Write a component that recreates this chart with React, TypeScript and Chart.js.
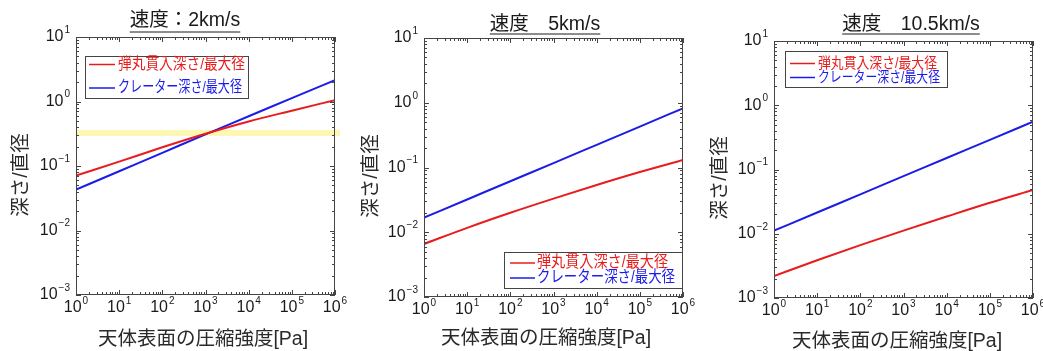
import React, { useEffect, useRef } from 'react';
import { Chart, registerables } from 'chart.js';

Chart.register(...registerables);

// ---------------- data ----------------
const pressure = [1, 10, 100, 1000, 10000, 100000, 1000000];
const penetration2 = [0.071, 0.117, 0.195, 0.316, 0.49, 0.72, 1.05];
const crater2 = [0.043, 0.083, 0.16, 0.31, 0.59, 1.13, 2.14];
const penetration5 = [0.00659, 0.0117, 0.02, 0.0331, 0.0537, 0.0851, 0.1306];
const crater5 = [0.0168, 0.0321, 0.0614, 0.117, 0.224, 0.429, 0.82];
const penetration105 = [0.0022, 0.00387, 0.00665, 0.01117, 0.01854, 0.0304, 0.048];
const crater105 = [0.01117, 0.0214, 0.0411, 0.0787, 0.151, 0.289, 0.555];
const highlightLevel = [0.326];

const xExponents = [0, 1, 2, 3, 4, 5, 6];
const yExponents = [-3, -2, -1, 0, 1];
const seriesNames = ['弾丸貫入深さ/最大径', 'クレーター深さ/最大径'];
const panelTitles = ['速度：2km/s', '速度　5km/s', '速度　10.5km/s'];
const xAxisTitle = '天体表面の圧縮強度[Pa]';
const yAxisTitle = '深さ/直径';

const panelSeries = [
  [penetration2, crater2],
  [penetration5, crater5],
  [penetration105, crater105],
];

// ---------------- layout / style ----------------
const W = 1043;
const H = 351;
const RED = '#e81c1c';
const BLUE = '#1c1ce8';
const FONT = "'Liberation Sans', 'Noto Sans CJK JP', sans-serif";

const layouts = [
  {
    area: { l: 76, r: 335, t: 37, b: 295 },
    title: { x: 185, y: 21, ul: 31.5 },
    yTitle: { x: 22, y: 175 },
    xTitle: { x: 203, y: 340 },
    legend: { l: 85, t: 56, r: 248, b: 98, rows: [64.5, 88], line: [89, 115], text: 118, size: 15.5, widths: [127, 124] },
    highlight: true,
  },
  {
    area: { l: 424, r: 683, t: 38, b: 297 },
    title: { x: 545, y: 25, ul: 33.5 },
    yTitle: { x: 372, y: 176 },
    xTitle: { x: 546, y: 339 },
    legend: { l: 504, t: 252, r: 682, b: 288, rows: [263, 278], line: [510, 535], text: 537, size: 16, widths: [131, 138] },
    highlight: false,
  },
  {
    area: { l: 774, r: 1033, t: 41, b: 298 },
    title: { x: 911, y: 25, ul: 33.5 },
    yTitle: { x: 721, y: 178 },
    xTitle: { x: 897, y: 342 },
    legend: { l: 785, t: 51, r: 947, b: 87, rows: [63.5, 77.5], line: [790, 815], text: 818, size: 14.5, widths: [119, 122] },
    highlight: false,
  },
];

const supDigits = (n: number) => (n < 0 ? '\u2212' + Math.abs(n) : String(n));

function drawPow(ctx: CanvasRenderingContext2D, e: number, x: number, y: number, align: 'center' | 'right') {
  ctx.save();
  ctx.fillStyle = '#1a1a1a';
  ctx.textBaseline = 'middle';
  ctx.textAlign = 'left';
  ctx.font = `16px ${FONT}`;
  const w10 = ctx.measureText('10').width;
  ctx.font = `10px ${FONT}`;
  const es = supDigits(e);
  const we = ctx.measureText(es).width;
  const x0 = align === 'center' ? x - (w10 + we + 1) / 2 : x - (w10 + we + 1);
  ctx.font = `16px ${FONT}`;
  ctx.fillText('10', x0, y);
  ctx.font = `10px ${FONT}`;
  ctx.fillText(es, x0 + w10 + 1, y - 7);
  ctx.restore();
}

function makeDecorPlugin(idx: number) {
  const L = layouts[idx];
  return {
    id: 'decor' + idx,
    beforeDatasetsDraw(chart: any) {
      const { ctx, chartArea, scales } = chart;
      if (L.highlight) {
        const yy = scales.y.getPixelForValue(highlightLevel[0]);
        ctx.save();
        ctx.fillStyle = 'rgba(252, 245, 160, 0.8)';
        ctx.fillRect(chartArea.left, yy - 3, chartArea.right - chartArea.left + 5, 6);
        ctx.restore();
      }
    },
    afterDraw(chart: any) {
      const { ctx, chartArea, scales } = chart;
      const { left, right, top, bottom } = chartArea;
      ctx.save();
      // frame
      ctx.strokeStyle = '#444';
      ctx.lineWidth = 1;
      ctx.strokeRect(left + 0.5, top + 0.5, right - left - 1, bottom - top - 1);
      // ticks
      ctx.beginPath();
      xExponents.forEach((e) => {
        for (let k = 1; k <= 9; k++) {
          const v = k * Math.pow(10, e);
          if (v > 1e6 + 1) break;
          const px = Math.round(scales.x.getPixelForValue(v)) + 0.5;
          const len = k === 1 ? 5 : 3;
          ctx.moveTo(px, bottom);
          ctx.lineTo(px, bottom - len);
          ctx.moveTo(px, top);
          ctx.lineTo(px, top + len);
        }
      });
      yExponents.forEach((e) => {
        for (let k = 1; k <= 9; k++) {
          const v = k * Math.pow(10, e);
          if (v > 10.0001) break;
          const py = Math.round(scales.y.getPixelForValue(v)) + 0.5;
          const len = k === 1 ? 5 : 3;
          ctx.moveTo(left, py);
          ctx.lineTo(left + len, py);
          ctx.moveTo(right, py);
          ctx.lineTo(right - len, py);
        }
      });
      ctx.stroke();
      ctx.restore();

      // tick labels
      xExponents.forEach((e) => {
        drawPow(ctx, e, scales.x.getPixelForValue(Math.pow(10, e)), bottom + 13, 'center');
      });
      yExponents.forEach((e) => {
        drawPow(ctx, e, left - 6, scales.y.getPixelForValue(Math.pow(10, e)), 'right');
      });

      // title with underline
      ctx.save();
      ctx.fillStyle = '#1a1a1a';
      ctx.font = `19.5px ${FONT}`;
      ctx.textAlign = 'center';
      ctx.textBaseline = 'middle';
      const t = panelTitles[idx];
      ctx.fillText(t, L.title.x, L.title.y);
      const tw = ctx.measureText(t).width;
      ctx.strokeStyle = '#1a1a1a';
      ctx.lineWidth = 1;
      ctx.beginPath();
      ctx.moveTo(L.title.x - tw / 2, L.title.ul + 0.5);
      ctx.lineTo(L.title.x + tw / 2, L.title.ul + 0.5);
      ctx.stroke();

      // axis titles
      ctx.fillStyle = '#2a2a2a';
      ctx.font = `19.5px ${FONT}`;
      ctx.fillText(xAxisTitle, L.xTitle.x, L.xTitle.y);
      ctx.translate(L.yTitle.x, L.yTitle.y);
      ctx.rotate(-Math.PI / 2);
      ctx.fillText(yAxisTitle, 0, 0);
      ctx.restore();

      // legend
      const lg = L.legend;
      ctx.save();
      ctx.fillStyle = '#ffffff';
      ctx.fillRect(lg.l, lg.t, lg.r - lg.l, lg.b - lg.t);
      ctx.strokeStyle = '#444';
      ctx.lineWidth = 1;
      ctx.strokeRect(lg.l + 0.5, lg.t + 0.5, lg.r - lg.l, lg.b - lg.t);
      chart.data.datasets.forEach((ds: any, i: number) => {
        const y = lg.rows[i];
        ctx.strokeStyle = ds.borderColor;
        ctx.lineWidth = 1.5;
        ctx.beginPath();
        ctx.moveTo(lg.line[0], y);
        ctx.lineTo(lg.line[1], y);
        ctx.stroke();
        ctx.fillStyle = ds.borderColor;
        ctx.font = `${lg.size}px ${FONT}`;
        ctx.textAlign = 'left';
        ctx.textBaseline = 'middle';
        ctx.fillText(ds.label, lg.text, y, lg.widths[i]);
      });
      ctx.restore();
    },
  };
}

function Panel({ idx }: { idx: number }) {
  const ref = useRef<HTMLCanvasElement | null>(null);
  useEffect(() => {
    const L = layouts[idx];
    const [pen, cra] = panelSeries[idx];
    const chart = new Chart(ref.current as HTMLCanvasElement, {
      type: 'line',
      data: {
        datasets: [
          {
            label: seriesNames[0],
            data: pressure.map((x, i) => ({ x, y: pen[i] })),
            borderColor: RED,
            borderWidth: 2,
            pointRadius: 0,
            fill: false,
            cubicInterpolationMode: 'monotone',
          },
          {
            label: seriesNames[1],
            data: pressure.map((x, i) => ({ x, y: cra[i] })),
            borderColor: BLUE,
            borderWidth: 2,
            pointRadius: 0,
            fill: false,
            cubicInterpolationMode: 'monotone',
          },
        ],
      },
      options: {
        responsive: false,
        animation: false,
        layout: {
          padding: { left: L.area.l, right: W - L.area.r, top: L.area.t, bottom: H - L.area.b },
        },
        plugins: {
          legend: { display: false },
          title: { display: false },
          tooltip: { enabled: false },
        },
        scales: {
          x: { type: 'logarithmic', min: 1, max: 1e6, display: false },
          y: { type: 'logarithmic', min: 1e-3, max: 10, display: false },
        },
      } as any,
      plugins: [makeDecorPlugin(idx)],
    } as any);
    return () => chart.destroy();
  }, [idx]);
  return (
    <canvas
      ref={ref}
      width={W}
      height={H}
      style={{ position: 'absolute', left: 0, top: 0, width: W, height: H }}
    />
  );
}

export default function App() {
  return (
    <div style={{ position: 'absolute', left: 0, top: 0, width: W, height: H, background: '#fff', overflow: 'hidden' }}>
      <Panel idx={0} />
      <Panel idx={1} />
      <Panel idx={2} />
    </div>
  );
}
